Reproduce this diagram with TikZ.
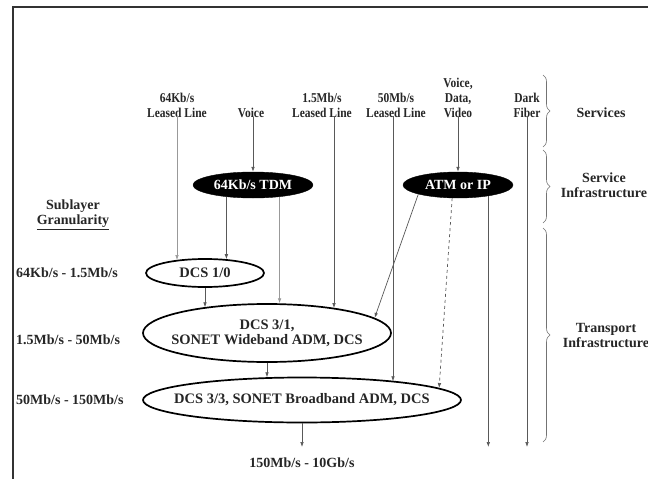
\documentclass[tikz,border=0pt]{standalone}
\usepackage{fontspec}
\setmainfont{Liberation Serif}
\newfontfamily\narrowserif[FakeStretch=0.85]{Liberation Serif}
\usetikzlibrary{arrows.meta,shapes.geometric,decorations.pathreplacing}
\begin{document}
\begin{tikzpicture}[x=1pt,y=-1pt,
  lbl/.style={font=\narrowserif\bfseries\fontsize{13.5}{15}\selectfont, align=center, inner sep=1pt, text=black!85},
  side/.style={font=\bfseries\fontsize{14}{15}\selectfont, align=center, inner sep=1pt, text=black!85},
  oval/.style={ellipse, draw=black, line width=1.7pt, inner xsep=-30pt, inner ysep=-2pt, align=center,
               font=\bfseries\fontsize{14.5}{15}\selectfont, text=black!85},
  darkoval/.style={ellipse, draw=black, fill=black, text=white, inner xsep=-10pt, inner ysep=-3pt,
               font=\bfseries\fontsize{14}{15}\selectfont},
  conn/.style={draw=black!65, line width=0.7pt, -{Latex[length=5pt,width=3.6pt]}},
  pale/.style={draw=black!40},
  brc/.style={decorate, decoration={brace, amplitude=7pt}, draw=black!55, line width=0.6pt}
]
\useasboundingbox (0,0) rectangle (648,479);
\fill[white] (0,0) rectangle (648,479);
% frame
\draw[line width=1.6pt, black!80] (13,479) -- (13,7) -- (660,7);

% top labels
\node[lbl] (l64)   at (177,105) {64Kb/s\\Leased Line};
\node[lbl] (lvoice) at (251,113) {Voice};
\node[lbl] (l15)   at (322,105) {1.5Mb/s\\Leased Line};
\node[lbl] (l50)   at (396,105) {50Mb/s\\Leased Line};
\node[lbl] (lvdv)  at (458,98)  {Voice,\\Data,\\Video};
\node[lbl] (ldark) at (527,105) {Dark\\Fiber};
\node[side] (serv)  at (601,113) {Services};
\node[side] (sinf)  at (604,185) {Service\\Infrastructure};
\node[side] (tinf)  at (606,335) {Transport\\Infrastructure};

% left labels
\node[side] (sub) at (73,215) {Sublayer\\\underline{Granularity}};
\node[side, anchor=west] (g1) at (15,273) {64Kb/s - 1.5Mb/s};
\node[side, anchor=west] (g2) at (15,340) {1.5Mb/s - 50Mb/s};
\node[side, anchor=west] (g3) at (15,400) {50Mb/s - 150Mb/s};

% ovals
\node[darkoval, minimum width=120pt, minimum height=26pt] (tdm) at (253,185) {64Kb/s TDM};
\node[darkoval, minimum width=110pt, minimum height=26pt] (atm) at (458,185) {ATM or IP};
\node[oval, minimum width=118pt, minimum height=28pt] (dcs10) at (205,273) {DCS 1/0};
\node[oval, minimum width=248pt, minimum height=58pt] (dcs31) at (267,333) {DCS 3/1,\\SONET Wideband ADM, DCS};
\node[oval, minimum width=318pt, minimum height=45pt] (dcs33) at (302,400) {DCS 3/3, SONET Broadband ADM, DCS};
\node[side] (top) at (302,463) {150Mb/s - 10Gb/s};
\coordinate (bot) at (0,447);

% connectors
\draw[conn,pale] ([yshift=2pt]l64.south) -- (l64.south |- dcs10.156);
\draw[conn] ([xshift=2pt,yshift=2pt]lvoice.south) -- (tdm.north);
\draw[conn] (tdm.-156.7) -- (tdm.-156.7 |- dcs10.32);
\draw[conn,pale] (tdm.-24.2) -- (tdm.-24.2 |- dcs31.67.4);
\draw[conn] ([xshift=12pt,yshift=2pt]l15.south) -- ([xshift=12pt]l15.south |- dcs31.20);
\draw[conn] ([xshift=-3pt,yshift=2pt]l50.south) -- ([xshift=-3pt]l50.south |- dcs33.11.4);
\draw[conn] ([yshift=2pt]lvdv.south) -- (atm.north);
\draw[conn] ([yshift=2pt]ldark.south) -- (ldark.south |- bot);
\draw[conn] (atm.-167.4) -- (dcs31.8.4);
\draw[conn,dashed] (atm.-114.9) -- (dcs33.5.7);
\draw[conn] (atm.-20.9) -- (atm.-20.9 |- bot);
\draw[conn] (dcs10.south) -- (dcs10.south |- dcs31.158);
\draw[conn] (dcs31.south) -- (dcs31.south |- dcs33.149.3);
\draw[conn] (dcs33.south) -- (dcs33.south |- bot);

% braces
\coordinate (b1) at (543,75);  \coordinate (b2) at (543,147);
\coordinate (b3) at (543,150); \coordinate (b4) at (543,223);
\coordinate (b5) at (543,228); \coordinate (b6) at (543,442);
\draw[brc] (b1) -- (b2);
\draw[brc] (b3) -- (b4);
\draw[brc] (b5) -- (b6);
\end{tikzpicture}
\end{document}
